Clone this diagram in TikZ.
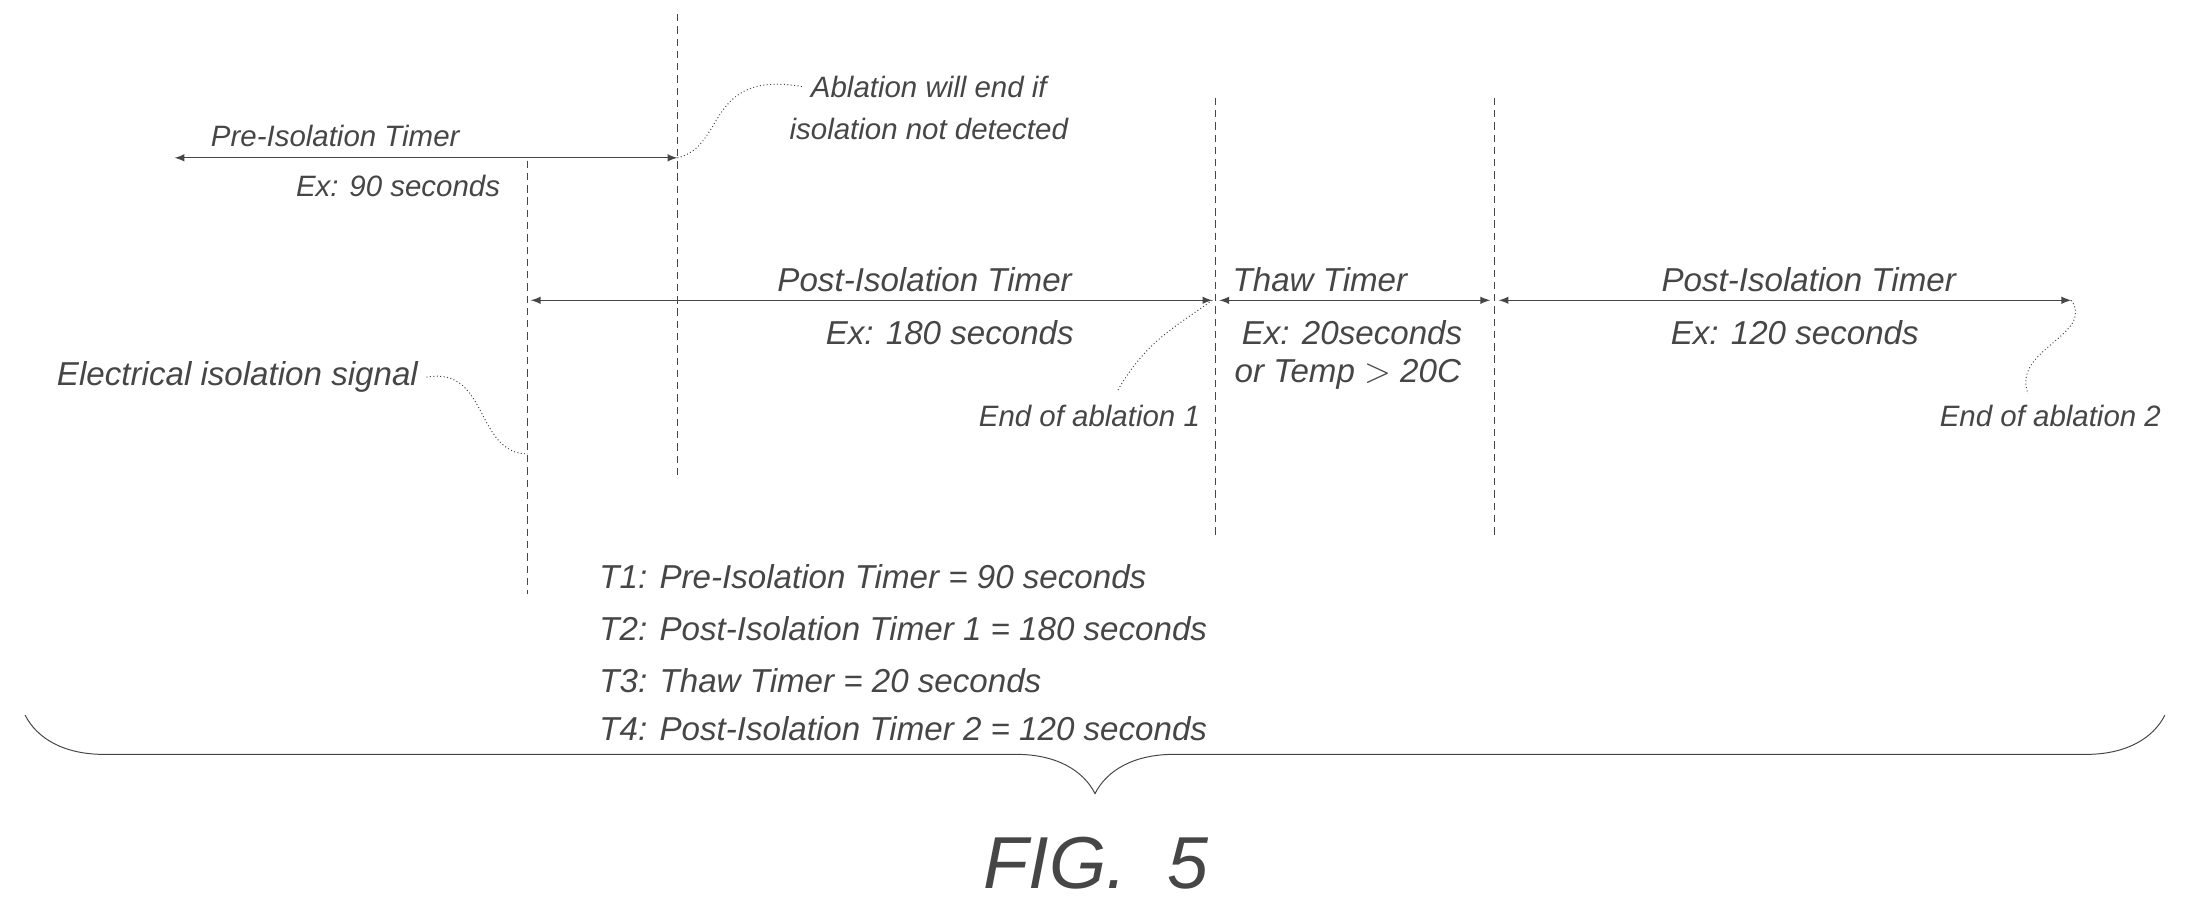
\documentclass[tikz,border=0pt]{standalone}
\usepackage{fontspec}
\setmainfont{Liberation Sans}
\usetikzlibrary{decorations.pathreplacing}
\definecolor{inkGray}{RGB}{70,70,70}

\begin{document}
\begin{tikzpicture}[x=0.02cm, y=-0.02cm, text=inkGray, draw=inkGray,
		font=\itshape\fontsize{13.5}{16}\selectfont,
		small/.style={font=\itshape\fontsize{12}{14}\selectfont},
		guide/.style={dash pattern=on 3pt off 2pt, thin},
		timer/.style={<->, >=latex, thin},
		callout/.style={densely dotted, thin}]
		\useasboundingbox (0,0) rectangle (1568,652);
		% vertical markers
		\coordinate (g1t) at (485,10);   \coordinate (g1b) at (485,340);
		\coordinate (g2t) at (378,115);  \coordinate (g2b) at (378,425);
		\coordinate (g3t) at (870,70);   \coordinate (g3b) at (870,385);
		\coordinate (g4t) at (1070,70);  \coordinate (g4b) at (1070,385);
		\begin{scope}[every path/.style={guide}]
			\draw (g1t) -- (g1b);
			\draw (g2t) -- (g2b);
			\draw (g3t) -- (g3b);
			\draw (g4t) -- (g4b);
		\end{scope}

		% timers
		\coordinate (preA) at (125,113);  \coordinate (preB) at (485,113);
		\coordinate (postA) at (380,215); \coordinate (postB) at (868,215);
		\coordinate (thawA) at (873,215); \coordinate (thawB) at (1067,215);
		\coordinate (lastA) at (1073,215);\coordinate (lastB) at (1483,215);
		\draw [timer] (preA) -- (preB);
		\draw [timer] (postA) -- (postB);
		\draw [timer] (thawA) -- (thawB);
		\draw [timer] (lastA) -- (lastB);

		\node [small] (preT) at (240,97) {Pre-Isolation Timer};
		\node [small] (preE) at (285,133) {Ex: 90 seconds};
		\node (postT) at (662,200) {Post-Isolation Timer};
		\node (postE) at (680,238) {Ex: 180 seconds};
		\node (thawT) at (945,200) {Thaw Timer};
		\node (thawE) at (968,238) {Ex: 20seconds};
		\node (thawC) at (965,268) {or Temp $>$ 20C};
		\node (lastT) at (1295,200) {Post-Isolation Timer};
		\node (lastE) at (1285,238) {Ex: 120 seconds};

		% callouts
		\node [small] (abl) at (665,62) {Ablation will end if};
		\node [small] (ablB) at (665,92) {isolation not detected};
		\node (sig) at (170,270) {Electrical isolation signal};
		\node [small] (end1) at (780,298) {End of ablation 1};
		\node [small] (end2) at (1468,298) {End of ablation 2};
		\draw [callout] (preB) .. controls (520,105) and (505,50) .. (abl.west);
		\draw [callout] (sig.east) .. controls (350,262) and (340,325) .. (378,325);
		\draw [callout] (postB) .. controls (840,235) and (820,245) .. (800,280);
		\draw [callout] (lastB) .. controls (1500,240) and (1440,250) .. (1452,282);

		% summary
		\begin{scope}[every node/.style={anchor=west}]
			\node (t1) at (423,413) {T1: Pre-Isolation Timer = 90 seconds};
			\node (t2) at (423,450) {T2: Post-Isolation Timer 1 = 180 seconds};
			\node (t3) at (423,487) {T3: Thaw Timer = 20 seconds};
			\node (t4) at (423,522) {T4: Post-Isolation Timer 2 = 120 seconds};
		\end{scope}

		\draw [decorate, decoration={brace, mirror, amplitude=32pt}] (18,512) -- (1550,512);
		\node (fig) at (785,618) {\fontsize{30}{34}\selectfont FIG.\ \ 5};
	\end{tikzpicture}
\end{document}
